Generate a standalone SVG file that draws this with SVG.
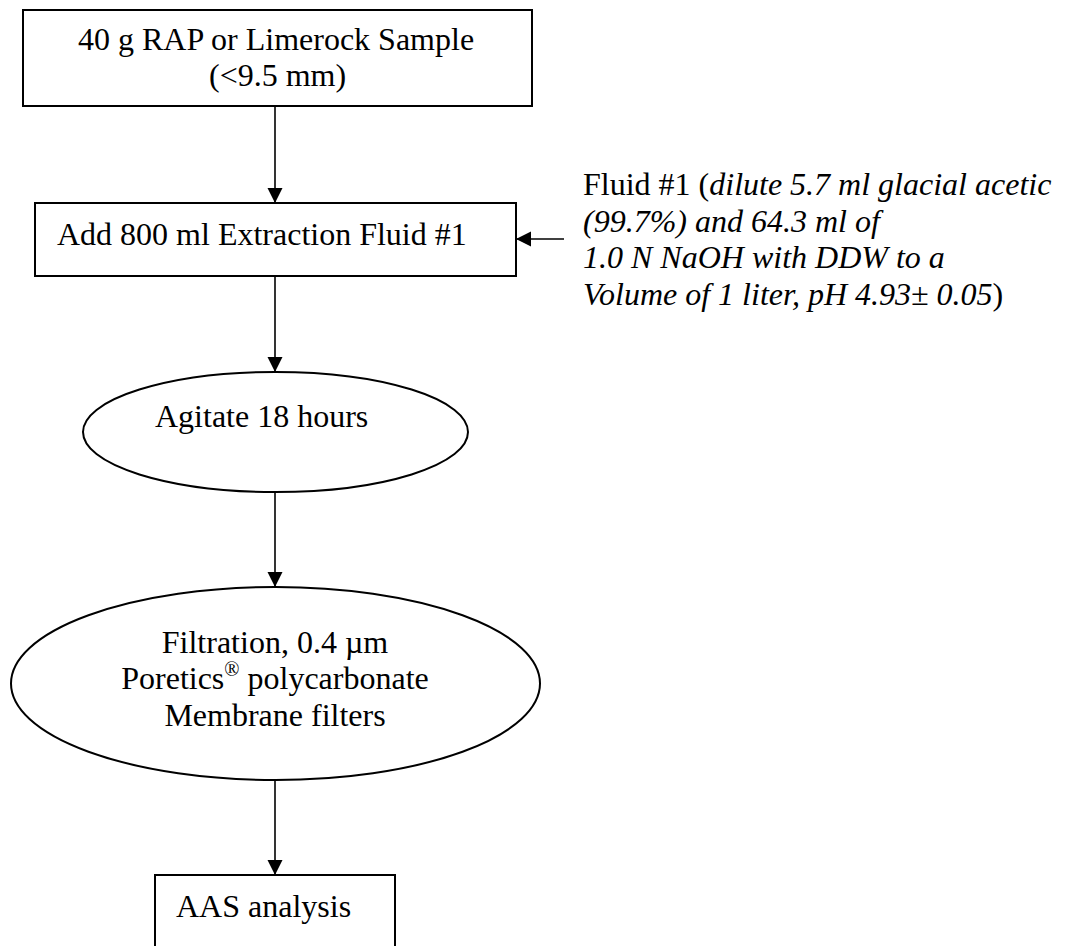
<svg xmlns="http://www.w3.org/2000/svg" width="1068" height="946" viewBox="0 0 1068 946">
<style>
.n{fill:#fff;stroke:#000;stroke-width:2}
.t{font-family:"Liberation Serif","Times New Roman",serif;font-size:32px;fill:#000}
.i{font-style:italic}
.c{stroke:#000;stroke-width:1.6;fill:none}
</style>
<defs>
<marker id="ah" markerUnits="userSpaceOnUse" markerWidth="17" markerHeight="17" refX="15" refY="7.5" orient="auto">
<path d="M0,0 L15,7.5 L0,15 Z" fill="#000"/>
</marker>
</defs>
<rect width="1068" height="946" fill="#fff"/>
<g id="connectors">
<line class="c" x1="275" y1="106" x2="275" y2="203" marker-end="url(#ah)"/>
<line class="c" x1="564" y1="239" x2="516" y2="239" marker-end="url(#ah)"/>
<line class="c" x1="275" y1="276" x2="275" y2="372" marker-end="url(#ah)"/>
<line class="c" x1="275" y1="492" x2="275" y2="587" marker-end="url(#ah)"/>
<line class="c" x1="275" y1="780" x2="275" y2="875" marker-end="url(#ah)"/>
</g>
<g id="sample">
<rect class="n" x="23" y="10" width="509" height="96"/>
<text class="t" x="78" y="50">40 g RAP or Limerock Sample</text>
<text class="t" x="209" y="86">(&lt;9.5 mm)</text>
</g>
<g id="add-fluid">
<rect class="n" x="35" y="203" width="481" height="73"/>
<text class="t" x="57" y="245">Add 800 ml Extraction Fluid #1</text>
</g>
<g id="fluid-note">
<text class="t" x="583" y="195">Fluid #1 (<tspan class="i">dilute 5.7 ml glacial acetic</tspan></text>
<text class="t i" x="583" y="232">(99.7%) and 64.3 ml of</text>
<text class="t i" x="583" y="268">1.0 N NaOH with DDW to a</text>
<text class="t" x="583" y="305"><tspan class="i">Volume of 1 liter, pH 4.93± 0.05</tspan>)</text>
</g>
<g id="agitate">
<ellipse class="n" cx="275.5" cy="432" rx="192.5" ry="60"/>
<text class="t" x="155" y="427">Agitate 18 hours</text>
</g>
<g id="filtration">
<ellipse class="n" cx="275.5" cy="683.5" rx="264.5" ry="96.5"/>
<text class="t" x="275" y="653" text-anchor="middle">Filtration, 0.4 µm</text>
<text class="t" x="275" y="689" text-anchor="middle">Poretics<tspan font-size="20" dy="-13">®</tspan><tspan dy="13"> polycarbonate</tspan></text>
<text class="t" x="275" y="726" text-anchor="middle">Membrane filters</text>
</g>
<g id="aas">
<rect class="n" x="155" y="875" width="240" height="90"/>
<text class="t" x="176" y="917">AAS analysis</text>
</g>
</svg>
